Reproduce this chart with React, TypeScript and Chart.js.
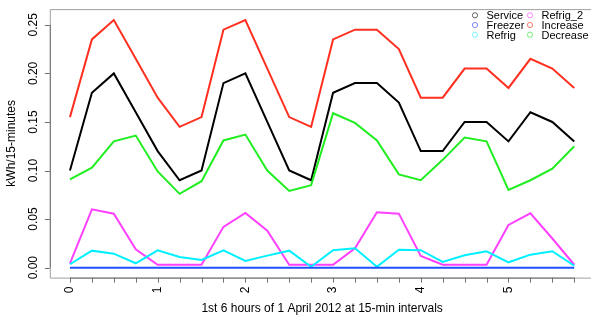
import React, { useEffect, useRef } from "react";
import { Chart, registerables } from "chart.js";

Chart.register(...registerables);

const times = [0, 0.25, 0.5, 0.75, 1, 1.25, 1.5, 1.75, 2, 2.25, 2.5, 2.75, 3, 3.25, 3.5, 3.75, 4, 4.25, 4.5, 4.75, 5, 5.25, 5.5, 5.75];
const service = [0.10, 0.18, 0.20, 0.16, 0.12, 0.09, 0.10, 0.19, 0.20, 0.15, 0.10, 0.09, 0.18, 0.19, 0.19, 0.17, 0.12, 0.12, 0.15, 0.15, 0.13, 0.16, 0.15, 0.13];
const freezer = [0, 0, 0, 0, 0, 0, 0, 0, 0, 0, 0, 0, 0, 0, 0, 0, 0, 0, 0, 0, 0, 0, 0, 0];
const refrig = [0.0035, 0.0175, 0.0144, 0.0045, 0.0179, 0.011, 0.0079, 0.0179, 0.0069, 0.0124, 0.0175, 0.001, 0.0179, 0.020, 0.001, 0.0185, 0.018, 0.0059, 0.0128, 0.0169, 0.0055, 0.0134, 0.0169, 0.002];
const refrig2 = [0.0045, 0.060, 0.0556, 0.019, 0.003, 0.003, 0.003, 0.042, 0.0563, 0.038, 0.003, 0.003, 0.003, 0.020, 0.057, 0.0556, 0.012, 0.003, 0.003, 0.003, 0.044, 0.056, 0.030, 0.003];
const increase = [0.155, 0.235, 0.255, 0.215, 0.175, 0.145, 0.155, 0.245, 0.255, 0.205, 0.155, 0.145, 0.235, 0.245, 0.245, 0.225, 0.175, 0.175, 0.205, 0.205, 0.185, 0.215, 0.205, 0.185];
const decrease = [0.091, 0.103, 0.130, 0.136, 0.099, 0.076, 0.089, 0.131, 0.137, 0.100, 0.079, 0.085, 0.159, 0.149, 0.131, 0.096, 0.090, 0.111, 0.134, 0.130, 0.080, 0.090, 0.102, 0.125];

const yTicks = [0, 0.05, 0.1, 0.15, 0.2, 0.25];
const xLabelTicks = [0, 1, 2, 3, 4, 5];
const seriesNames = ["Service", "Freezer", "Refrig", "Refrig_2", "Increase", "Decrease"];
const seriesColors = ["#000000", "#2050ff", "#00f0ff", "#ff40ff", "#ff3020", "#20ee20"];
const legendColors = ["rgba(0,0,0,0.6)", "rgba(40,60,255,0.6)", "rgba(0,230,255,0.5)", "rgba(255,60,255,0.6)", "rgba(255,40,20,0.6)", "rgba(30,230,30,0.6)"];

const FONT = "'Liberation Sans', Arial, Helvetica, sans-serif";

const rAxesPlugin = {
  id: "rAxes",
  afterDraw(chart: any) {
    const ctx = chart.ctx;
    const { left, top, right, bottom } = chart.chartArea;
    const xs = chart.scales.x;
    const ys = chart.scales.y;
    ctx.save();
    // box
    ctx.strokeStyle = "#a0a0a0";
    ctx.lineWidth = 1;
    ctx.beginPath();
    ctx.moveTo(right + 5, top + 0.5);
    ctx.lineTo(left + 0.5, top + 0.5);
    ctx.lineTo(left + 0.5, bottom + 0.5);
    ctx.lineTo(right + 5, bottom + 0.5);
    ctx.stroke();
    // y axis
    ctx.strokeStyle = "#707070";
    ctx.beginPath();
    const y0 = ys.getPixelForValue(yTicks[0]);
    const y1 = ys.getPixelForValue(yTicks[yTicks.length - 1]);
    ctx.moveTo(left + 0.5, y0);
    ctx.lineTo(left + 0.5, y1);
    for (const v of yTicks) {
      const py = Math.round(ys.getPixelForValue(v)) + 0.5;
      ctx.moveTo(left - 5, py);
      ctx.lineTo(left, py);
    }
    ctx.stroke();
    // x axis
    ctx.beginPath();
    const x0 = xs.getPixelForValue(times[0]);
    const x1 = xs.getPixelForValue(times[times.length - 1]);
    ctx.moveTo(x0, bottom + 0.5);
    ctx.lineTo(x1, bottom + 0.5);
    for (const t of times) {
      const px = Math.round(xs.getPixelForValue(t)) + 0.5;
      ctx.moveTo(px, bottom);
      ctx.lineTo(px, bottom + 5);
    }
    ctx.stroke();
    ctx.fillStyle = "#000";
    ctx.font = "12px " + FONT;
    // y labels
    for (const v of yTicks) {
      const py = ys.getPixelForValue(v);
      ctx.save();
      ctx.translate(33.5, py);
      ctx.rotate(-Math.PI / 2);
      ctx.textAlign = "center";
      ctx.textBaseline = "middle";
      ctx.fillText(v.toFixed(2), 0, 0);
      ctx.restore();
    }
    // x labels
    for (const t of xLabelTicks) {
      const px = xs.getPixelForValue(t);
      ctx.save();
      ctx.translate(px, bottom + 9);
      ctx.rotate(-Math.PI / 2);
      ctx.textAlign = "right";
      ctx.textBaseline = "middle";
      ctx.fillText(String(t), 0, 0);
      ctx.restore();
    }
    // titles
    ctx.textAlign = "center";
    ctx.textBaseline = "middle";
    const cx = xs.getPixelForValue((-0.23 + 5.98) / 2);
    ctx.fillText("1st 6 hours of 1 April 2012 at 15-min intervals", cx, 309);
    ctx.save();
    ctx.translate(12, (top + bottom) / 2);
    ctx.rotate(-Math.PI / 2);
    ctx.fillText("kWh/15-minutes", 0, 0);
    ctx.restore();
    // legend
    ctx.font = "11px " + FONT;
    ctx.textAlign = "left";
    ctx.textBaseline = "middle";
    const colX = [475, 530];
    const rowY = [15.3, 25, 34.7];
    seriesNames.forEach((name, i) => {
      const c = Math.floor(i / 3);
      const r = i % 3;
      ctx.strokeStyle = legendColors[i];
      ctx.lineWidth = 1;
      ctx.beginPath();
      ctx.arc(colX[c], rowY[r], 2.6, 0, Math.PI * 2);
      ctx.stroke();
      ctx.fillStyle = "#000";
      ctx.fillText(name, colX[c] + 11.5, rowY[r] + 1);
    });
    ctx.restore();
  },
};

export default function App() {
  const ref = useRef<HTMLCanvasElement | null>(null);
  useEffect(() => {
    if (!ref.current) return;
    const series = [service, freezer, refrig, refrig2, increase, decrease];
    const orders = [5, 0, 3, 4, 2, 1];
    const chart = new Chart(ref.current, {
      type: "line",
      data: {
        datasets: series.map((vals, i) => ({
          label: seriesNames[i],
          data: times.map((t, j) => ({ x: t, y: vals[j] })),
          borderColor: seriesColors[i],
          backgroundColor: seriesColors[i],
          borderWidth: 2,
          pointRadius: 0,
          tension: 0,
          fill: false,
          order: orders[i],
        })),
      },
      options: {
        animation: false,
        responsive: false,
        maintainAspectRatio: false,
        devicePixelRatio: 1,
        layout: { padding: { left: 49.8, top: 9.1, right: 0, bottom: 42.4 } },
        plugins: { legend: { display: false }, tooltip: { enabled: false } },
        scales: {
          x: { type: "linear", min: -0.23, max: 5.941, display: false },
          y: { type: "linear", min: -0.01024, max: 0.2662, display: false },
        },
      },
      plugins: [rAxesPlugin],
    });
    return () => chart.destroy();
  }, []);
  return (
    <div style={{ position: "absolute", left: 0, top: 0, width: 591, height: 320, background: "#fff" }}>
      <canvas ref={ref} width={591} height={320} style={{ display: "block" }} />
    </div>
  );
}
